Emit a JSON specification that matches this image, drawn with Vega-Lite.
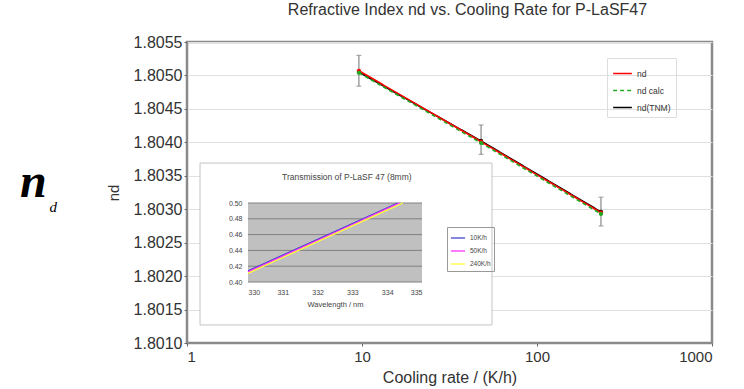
{
  "$schema": "https://vega.github.io/schema/vega-lite/v6.json",
  "width": 525,
  "height": 301,
  "autosize": "none",
  "padding": {"left": 187, "top": 42, "right": 32, "bottom": 46},
  "background": "white",
  "config": {
    "font": "Liberation Sans",
    "view": {"stroke": "#8a8a8a", "strokeWidth": 2.5}
  },
  "title": {
    "text": "Refractive Index nd vs. Cooling Rate for P-LaSF47",
    "fontSize": 16,
    "fontWeight": "normal",
    "color": "#333333",
    "font": "Liberation Sans",
    "offset": 16,
    "dx": 18
  },
  "datasets": {
    "main": [
      {"series": "nd(TNM)", "rate": 9.6, "nd": 1.80505, "lo": 1.80484, "hi": 1.8053},
      {"series": "nd(TNM)", "rate": 47.9, "nd": 1.80402, "lo": 1.80382, "hi": 1.80426},
      {"series": "nd(TNM)", "rate": 232, "nd": 1.80296, "lo": 1.80275, "hi": 1.80318},
      {"series": "nd", "rate": 9.6, "nd": 1.80507},
      {"series": "nd", "rate": 47.9, "nd": 1.80401},
      {"series": "nd", "rate": 232, "nd": 1.80295},
      {"series": "nd calc", "rate": 9.6, "nd": 1.80504},
      {"series": "nd calc", "rate": 47.9, "nd": 1.80399},
      {"series": "nd calc", "rate": 232, "nd": 1.80293}
    ],
    "inset": [
      {"series": "10K/h", "wl": 330, "T": 0.414},
      {"series": "10K/h", "wl": 331, "T": 0.434},
      {"series": "10K/h", "wl": 332, "T": 0.454},
      {"series": "10K/h", "wl": 333, "T": 0.474},
      {"series": "10K/h", "wl": 334, "T": 0.494},
      {"series": "10K/h", "wl": 334.3, "T": 0.5},
      {"series": "50K/h", "wl": 330, "T": 0.4128},
      {"series": "50K/h", "wl": 331, "T": 0.4328},
      {"series": "50K/h", "wl": 332, "T": 0.4528},
      {"series": "50K/h", "wl": 333, "T": 0.4728},
      {"series": "50K/h", "wl": 334, "T": 0.4928},
      {"series": "50K/h", "wl": 334.36, "T": 0.5},
      {"series": "240K/h", "wl": 330, "T": 0.411},
      {"series": "240K/h", "wl": 331, "T": 0.431},
      {"series": "240K/h", "wl": 332, "T": 0.451},
      {"series": "240K/h", "wl": 333, "T": 0.471},
      {"series": "240K/h", "wl": 334, "T": 0.491},
      {"series": "240K/h", "wl": 334.45, "T": 0.5}
    ],
    "insetgrid": [
      {"g": 0.40}, {"g": 0.42}, {"g": 0.44}, {"g": 0.46}, {"g": 0.48}, {"g": 0.50}
    ]
  },
  "layer": [
    {
      "layer": [
        {
          "data": {"name": "main"},
          "mark": {"type": "line", "strokeWidth": 1.6},
          "encoding": {
            "x": {
              "field": "rate",
              "type": "quantitative",
              "scale": {"type": "log", "domain": [1, 1000], "nice": false},
              "axis": {
                "orient": "bottom",
                "values": [1, 10, 100, 1000],
                "format": "d",
                "grid": false,
                "labelFontSize": 15,
                "labelColor": "#333333",
                "labelPadding": 3,
                "tickSize": 3,
                "tickColor": "#666666",
                "domainColor": "#8a8a8a",
                "title": "Cooling rate / (K/h)",
                "titleFontSize": 16,
                "titleFontWeight": "normal",
                "titleColor": "#333333",
                "titlePadding": 5
              }
            },
            "y": {
              "field": "nd",
              "type": "quantitative",
              "scale": {"domain": [1.801, 1.8055], "nice": false, "zero": false},
              "axis": {
                "orient": "left",
                "tickCount": 10,
                "values": [1.801, 1.8015, 1.802, 1.8025, 1.803, 1.8035, 1.804, 1.8045, 1.805, 1.8055],
                "format": ".4f",
                "labelOverlap": false,
                "labelFlush": false,
                "grid": true,
                "gridColor": "#e0e0e0",
                "labelFontSize": 16,
                "labelColor": "#333333",
                "labelPadding": 2,
                "tickSize": 3,
                "tickColor": "#666666",
                "domainColor": "#8a8a8a",
                "title": "nd",
                "titleFontSize": 15,
                "titleFontWeight": "normal",
                "titleColor": "#333333",
                "titlePadding": 12
              }
            },
            "color": {
              "field": "series",
              "type": "nominal",
              "scale": {"domain": ["nd", "nd calc", "nd(TNM)"], "range": ["#ff0000", "#22aa22", "#000000"]},
              "legend": {
                "title": null,
                "orient": "none",
                "legendX": 420,
                "legendY": 16,
                "symbolType": "stroke",
                "symbolSize": 350,
                "symbolStrokeWidth": 1.6,
                "labelFontSize": 8.5,
                "labelColor": "#333333",
                "strokeColor": "#dddddd",
                "padding": 5,
                "rowPadding": 2
              }
            },
            "strokeDash": {
              "field": "series",
              "type": "nominal",
              "scale": {"domain": ["nd", "nd calc", "nd(TNM)"], "range": [[1, 0], [4, 3], [1, 0]]},
              "legend": {
                "title": null,
                "orient": "none",
                "legendX": 420,
                "legendY": 16,
                "symbolType": "stroke",
                "symbolSize": 350,
                "symbolStrokeWidth": 1.6,
                "labelFontSize": 8.5,
                "labelColor": "#333333",
                "strokeColor": "#dddddd",
                "padding": 5,
                "rowPadding": 2
              }
            }
          }
        },
        {
          "data": {"name": "main"},
          "transform": [{"filter": "datum.series === 'nd(TNM)'"}],
          "mark": {"type": "rule", "color": "#888888", "strokeWidth": 1.2},
          "encoding": {
            "x": {"field": "rate", "type": "quantitative", "scale": {"type": "log"}},
            "y": {"field": "lo", "type": "quantitative"},
            "y2": {"field": "hi"}
          }
        },
        {
          "data": {"name": "main"},
          "transform": [{"filter": "datum.series === 'nd(TNM)'"}],
          "mark": {"type": "tick", "color": "#888888", "orient": "horizontal", "size": 5, "thickness": 1.2},
          "encoding": {
            "x": {"field": "rate", "type": "quantitative", "scale": {"type": "log"}},
            "y": {"field": "lo", "type": "quantitative"}
          }
        },
        {
          "data": {"name": "main"},
          "transform": [{"filter": "datum.series === 'nd(TNM)'"}],
          "mark": {"type": "tick", "color": "#888888", "orient": "horizontal", "size": 5, "thickness": 1.2},
          "encoding": {
            "x": {"field": "rate", "type": "quantitative", "scale": {"type": "log"}},
            "y": {"field": "hi", "type": "quantitative"}
          }
        },
        {
          "data": {"name": "main"},
          "mark": {"type": "point", "filled": true, "size": 18, "opacity": 1},
          "encoding": {
            "x": {"field": "rate", "type": "quantitative", "scale": {"type": "log"}},
            "y": {"field": "nd", "type": "quantitative"},
            "color": {"field": "series", "type": "nominal"}
          }
        },
        {
          "data": {"values": [{}]},
          "mark": {"type": "rect", "fill": "white", "stroke": "#c4c4c4", "strokeWidth": 1},
          "encoding": {
            "x": {"datum": 1.187, "type": "quantitative", "scale": {"type": "log"}},
            "x2": {"datum": 55.3},
            "y": {"datum": 1.80369, "type": "quantitative"},
            "y2": {"datum": 1.80127}
          }
        },
        {
          "data": {"values": [{}]},
          "mark": {"type": "text", "text": "n", "font": "Liberation Serif", "fontStyle": "italic", "fontWeight": "bold", "fontSize": 48, "align": "center", "baseline": "alphabetic", "color": "#000000"},
          "encoding": {
            "x": {"datum": 0.1323, "type": "quantitative", "scale": {"type": "log"}},
            "y": {"datum": 1.80318, "type": "quantitative"}
          }
        },
        {
          "data": {"values": [{}]},
          "mark": {"type": "text", "text": "d", "font": "Liberation Serif", "fontStyle": "italic", "fontSize": 15, "align": "center", "baseline": "alphabetic", "color": "#000000"},
          "encoding": {
            "x": {"datum": 0.172, "type": "quantitative", "scale": {"type": "log"}},
            "y": {"datum": 1.80296, "type": "quantitative"}
          }
        }
      ]
    },
    {
      "layer": [
        {
          "data": {"values": [{}]},
          "mark": {"type": "rect", "fill": "#c0c0c0"},
          "encoding": {
            "x": {"datum": 330, "type": "quantitative"},
            "x2": {"datum": 335},
            "y": {"datum": 0.40, "type": "quantitative"},
            "y2": {"datum": 0.50}
          }
        },
        {
          "data": {"name": "insetgrid"},
          "mark": {"type": "rule", "color": "#808080", "strokeWidth": 1},
          "encoding": {
            "x": {"datum": 330, "type": "quantitative"},
            "x2": {"datum": 335},
            "y": {"field": "g", "type": "quantitative"}
          }
        },
        {
          "data": {"name": "inset"},
          "mark": {"type": "line", "strokeWidth": 1.3},
          "encoding": {
            "x": {
              "field": "wl",
              "type": "quantitative",
              "scale": {"domain": [330, 335], "range": [61, 235], "nice": false, "zero": false},
              "axis": {
                "orient": "bottom",
                "offset": -61,
                "values": [330, 331, 332, 333, 334, 335],
                "format": "d",
                "grid": false,
                "domain": false,
                "ticks": false,
                "labelFontSize": 7,
                "labelColor": "#444444",
                "labelPadding": 6,
                "title": "Wavelength / nm",
                "titleFontSize": 7.5,
                "titleFontWeight": "normal",
                "titleColor": "#444444",
                "titlePadding": 5,
                "titleX": 148,
                "zindex": 1
              }
            },
            "y": {
              "field": "T",
              "type": "quantitative",
              "scale": {"domain": [0.40, 0.50], "range": [240, 161], "nice": false, "zero": false},
              "axis": {
                "orient": "left",
                "offset": -61,
                "values": [0.40, 0.42, 0.44, 0.46, 0.48, 0.50],
                "format": ".2f",
                "labelOverlap": false,
                "grid": false,
                "domain": false,
                "ticks": false,
                "labelFontSize": 7,
                "labelColor": "#444444",
                "labelPadding": 6,
                "title": null,
                "zindex": 1
              }
            },
            "color": {
              "field": "series",
              "type": "nominal",
              "scale": {"domain": ["10K/h", "50K/h", "240K/h"], "range": ["#4444cc", "#ff33ff", "#ffff33"]},
              "legend": {
                "title": null,
                "orient": "none",
                "legendX": 260,
                "legendY": 185,
                "symbolType": "stroke",
                "symbolSize": 200,
                "symbolStrokeWidth": 1.3,
                "labelFontSize": 6.5,
                "labelColor": "#444444",
                "strokeColor": "#999999",
                "padding": 3,
                "rowPadding": 1
              }
            }
          }
        },
        {
          "data": {"values": [{}]},
          "mark": {"type": "text", "text": "Transmission of P-LaSF 47 (8mm)", "fontSize": 8.5, "color": "#444444", "align": "center", "baseline": "middle"},
          "encoding": {
            "x": {"datum": 332.84, "type": "quantitative"},
            "y": {"datum": 0.533, "type": "quantitative"}
          }
        }
      ]
    }
  ],
  "resolve": {
    "scale": {"x": "independent", "y": "independent", "color": "independent", "strokeDash": "independent"},
    "axis": {"x": "independent", "y": "independent"},
    "legend": {"color": "independent", "strokeDash": "independent"}
  }
}
